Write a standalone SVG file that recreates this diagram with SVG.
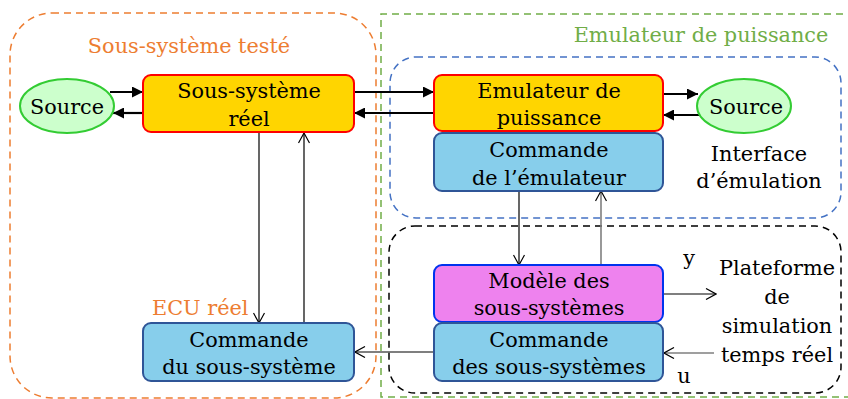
<svg xmlns="http://www.w3.org/2000/svg" width="848" height="399" viewBox="0 0 848 399" font-family="DejaVu Serif, serif">
<style>
text{font-size:20.8px;fill:#000;text-anchor:middle}
.gold{fill:#FFD500;stroke:#FF0000;stroke-width:2}
.src{fill:#CCFFCC;stroke:#33CC33;stroke-width:2}
.cmd{fill:#87CEEB;stroke:#2F5597;stroke-width:2}
.mod{fill:#EE82EE;stroke:#0033EE;stroke-width:2}
.thick{stroke:#000;stroke-width:2.2;fill:none}
.thin{stroke:#000;stroke-width:1.2;fill:none}
.gray{stroke:#7F7F7F;stroke-width:1.6;fill:none}
.dash{fill:none;stroke-width:1.5;stroke-dasharray:7 5}
</style>
<defs>
<marker id="fa" viewBox="0 0 10 10" refX="10" refY="5" markerWidth="5" markerHeight="5" markerUnits="strokeWidth" orient="auto">
<path d="M0,0 L10,5 L0,10 z" fill="#000"/>
</marker>
<marker id="oa" viewBox="0 0 12 12" refX="11" refY="6" markerWidth="12" markerHeight="12" markerUnits="userSpaceOnUse" orient="auto">
<path d="M1,0.5 L11,6 L1,11.5" fill="none" stroke="#000" stroke-width="1.2"/>
</marker>
</defs>
<g id="groups">
<rect x="10" y="13" width="366" height="385" rx="42" class="dash" stroke="#ED7D31"/>
<path d="M855,14 L381,14 L381,397 L855,397" class="dash" stroke="#70AD47"/>
<rect x="390" y="57" width="451" height="161" rx="26" class="dash" stroke="#4472C4"/>
<rect x="389" y="226" width="452" height="167" rx="26" class="dash" stroke="#000"/>
<text x="189" y="53" style="fill:#ED7D31">Sous-système testé</text>
<text x="701" y="42" style="fill:#70AD47">Emulateur de puissance</text>
<text x="152" y="315" style="fill:#ED7D31;text-anchor:start">ECU réel</text>
</g>
<g id="connectors">
<line x1="110" y1="92" x2="143" y2="92" class="thick" marker-end="url(#fa)"/>
<line x1="143" y1="113" x2="113" y2="113" class="thick" marker-end="url(#fa)"/>
<line x1="354" y1="92" x2="434" y2="92" class="thick" marker-end="url(#fa)"/>
<line x1="434" y1="113" x2="354" y2="113" class="thick" marker-end="url(#fa)"/>
<line x1="663" y1="94" x2="698" y2="94" class="thick" marker-end="url(#fa)"/>
<line x1="699" y1="115" x2="663" y2="115" class="thick" marker-end="url(#fa)"/>
<line x1="259" y1="133" x2="259" y2="323" class="thin" marker-end="url(#oa)"/>
<line x1="304" y1="323" x2="304" y2="133" class="thin" marker-end="url(#oa)"/>
<line x1="519" y1="191" x2="519" y2="265" class="thin" marker-end="url(#oa)"/>
<line x1="601" y1="265" x2="601" y2="191" class="gray" marker-end="url(#oa)"/>
<line x1="663" y1="294" x2="716" y2="294" class="thin" marker-end="url(#oa)"/>
<line x1="714" y1="353" x2="664" y2="353" class="gray" marker-end="url(#oa)"/>
<line x1="434" y1="352" x2="355" y2="352" class="thin" stroke="#333" marker-end="url(#oa)"/>
<text x="689" y="265">y</text>
<text x="684" y="383">u</text>
</g>
<g id="source-left">
<ellipse cx="67" cy="106" rx="47" ry="27" class="src"/>
<text x="67" y="114">Source</text>
</g>
<g id="sous-systeme-reel">
<rect x="143" y="75" width="211" height="57" rx="8" class="gold"/>
<text x="249" y="98">Sous-système</text>
<text x="249" y="126">réel</text>
</g>
<g id="emulateur">
<rect x="434" y="75" width="229" height="56" rx="8" class="gold"/>
<text x="549" y="98">Emulateur de</text>
<text x="549" y="125">puissance</text>
</g>
<g id="source-right">
<ellipse cx="744" cy="106" rx="47" ry="27" class="src"/>
<text x="746" y="114">Source</text>
</g>
<g id="commande-emulateur">
<rect x="434" y="133" width="229" height="58" rx="8" class="cmd"/>
<text x="549" y="157">Commande</text>
<text x="549" y="185">de l’émulateur</text>
</g>
<g id="interface">
<text x="759" y="161">Interface</text>
<text x="759" y="188">d’émulation</text>
</g>
<g id="modele">
<rect x="434" y="265" width="229" height="57" rx="8" class="mod"/>
<text x="549" y="288">Modèle des</text>
<text x="549" y="315">sous-systèmes</text>
</g>
<g id="commande-sous-systemes">
<rect x="434" y="323" width="229" height="58" rx="8" class="cmd"/>
<text x="549" y="347">Commande</text>
<text x="549" y="374">des sous-systèmes</text>
</g>
<g id="commande-sous-systeme">
<rect x="143" y="323" width="211" height="58" rx="8" class="cmd"/>
<text x="249" y="347">Commande</text>
<text x="249" y="374">du sous-système</text>
</g>
<g id="plateforme">
<text x="777" y="275">Plateforme</text>
<text x="777" y="304">de</text>
<text x="777" y="333">simulation</text>
<text x="777" y="362">temps réel</text>
</g>
</svg>
